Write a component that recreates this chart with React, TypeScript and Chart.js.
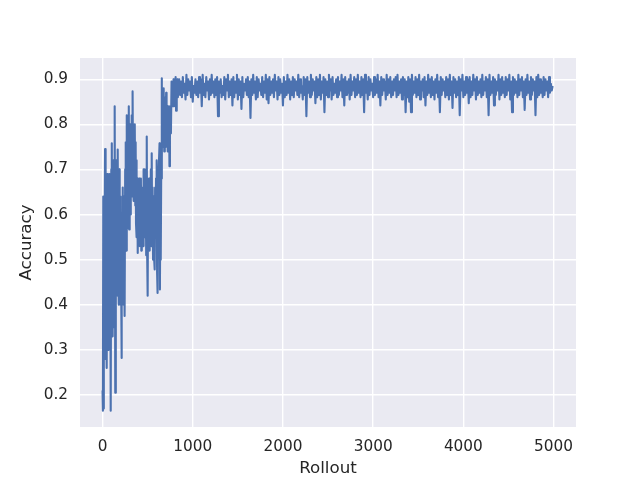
import React, { useEffect, useRef } from "react";
import { Chart, registerables } from "chart.js";

Chart.register(...registerables);

// Early, noisy phase of training (rollout index -> accuracy)
const EARLY_ROLLOUT = [
  0, 4, 8, 12, 16, 20, 24, 28, 32, 36,
  40, 44, 48, 52, 56, 60, 64, 68, 72, 76,
  80, 84, 88, 93, 97, 101, 104, 108, 112, 116,
  120, 124, 128, 132, 137, 141, 145, 149, 153, 157,
  162, 166, 170, 174, 178, 182, 186, 190, 194, 198,
  202, 206, 210, 214, 218, 222, 226, 230, 234, 238,
  242, 247, 251, 255, 259, 263, 267, 270, 274, 278,
  282, 286, 291, 295, 299, 303, 307, 311, 315, 319,
  323, 327, 331, 335, 339, 343, 347, 351, 355, 359,
  363, 367, 371, 375, 380, 385, 390, 395, 400, 405,
  410, 415, 420, 425, 430, 435, 440, 445, 450, 455,
  460, 467, 472, 478, 484, 490, 495, 500, 505, 510,
  515, 520, 525, 530, 535, 540, 545, 550, 555, 560,
  565, 570, 578, 583, 588, 593, 600, 605, 610, 615,
  620, 625, 632, 636, 640, 645, 650, 655, 659, 663,
  667, 671, 675, 680, 684, 688, 692, 696, 700, 705,
  710, 715, 720, 725, 731, 736, 742, 747, 752, 758,
  765, 770, 775, 780, 787, 792, 797, 803, 810, 815,
  820, 825, 830, 835,
];
const EARLY_ACCURACY = [
  0.21, 0.165, 0.64, 0.17, 0.62, 0.30, 0.60, 0.745, 0.28, 0.70,
  0.38, 0.67, 0.26, 0.69, 0.40, 0.66, 0.30, 0.62, 0.45, 0.69,
  0.38, 0.66, 0.28, 0.165, 0.70, 0.45, 0.758, 0.33, 0.66, 0.48,
  0.72, 0.35, 0.64, 0.52, 0.84, 0.205, 0.68, 0.46, 0.72, 0.50,
  0.70, 0.42, 0.744, 0.48, 0.66, 0.40, 0.70, 0.52, 0.64, 0.40,
  0.62, 0.45, 0.282, 0.60, 0.42, 0.66, 0.50, 0.62, 0.40, 0.64,
  0.45, 0.375, 0.70, 0.58, 0.76, 0.52, 0.72, 0.82, 0.57, 0.74,
  0.60, 0.78, 0.84, 0.567, 0.72, 0.62, 0.80, 0.60, 0.76, 0.65,
  0.82, 0.64, 0.78, 0.873, 0.66, 0.80, 0.63, 0.78, 0.66, 0.80,
  0.62, 0.76, 0.58, 0.72, 0.55, 0.68, 0.515, 0.66, 0.55, 0.68,
  0.53, 0.65, 0.56, 0.68, 0.52, 0.64, 0.55, 0.66, 0.53, 0.70,
  0.55, 0.70, 0.56, 0.68, 0.51, 0.773, 0.507, 0.42, 0.66, 0.54,
  0.68, 0.52, 0.66, 0.55, 0.70, 0.53, 0.736, 0.55, 0.66, 0.50,
  0.64, 0.52, 0.478, 0.66, 0.55, 0.68, 0.72, 0.47, 0.426, 0.66,
  0.52, 0.70, 0.758, 0.434, 0.62, 0.50, 0.68, 0.902, 0.72, 0.88,
  0.76, 0.86, 0.75, 0.88, 0.74, 0.85, 0.77, 0.86, 0.75, 0.87,
  0.76, 0.84, 0.74, 0.82, 0.76, 0.84, 0.707, 0.80, 0.84, 0.78,
  0.895, 0.84, 0.89, 0.85, 0.90, 0.84, 0.88, 0.85, 0.905, 0.83,
  0.88, 0.86, 0.90, 0.86,
];

// Converged phase: one reading every PLATEAU_STEP rollouts from PLATEAU_START
const PLATEAU_START = 850;
const PLATEAU_STEP = 10;
const PLATEAU_ACCURACY = [
  0.90, 0.865, 0.895, 0.86, 0.905, 0.87, 0.89, 0.855, 0.91, 0.865, 0.90, 0.875, 0.895, 0.86, 0.905, 0.85, 0.885, 0.87, 0.90, 0.865,
  0.895, 0.86, 0.905, 0.87, 0.90, 0.84, 0.91, 0.865, 0.89, 0.86, 0.905, 0.875, 0.895, 0.855, 0.90, 0.865, 0.91, 0.87, 0.895, 0.86,
  0.90, 0.865, 0.905, 0.818, 0.895, 0.87, 0.90, 0.86, 0.885, 0.865, 0.905, 0.855, 0.90, 0.875, 0.91, 0.86, 0.895, 0.865, 0.90, 0.842,
  0.905, 0.86, 0.895, 0.87, 0.91, 0.855, 0.90, 0.865, 0.895, 0.834, 0.905, 0.86, 0.89, 0.875, 0.90, 0.865, 0.905, 0.86, 0.895, 0.814,
  0.90, 0.865, 0.91, 0.87, 0.895, 0.855, 0.905, 0.86, 0.90, 0.875, 0.89, 0.865, 0.905, 0.86, 0.895, 0.87, 0.91, 0.855, 0.90, 0.847,
  0.905, 0.865, 0.895, 0.87, 0.90, 0.86, 0.91, 0.875, 0.895, 0.855, 0.905, 0.865, 0.90, 0.87, 0.89, 0.842, 0.905, 0.86, 0.895, 0.865,
  0.91, 0.87, 0.90, 0.855, 0.895, 0.865, 0.905, 0.86, 0.90, 0.875, 0.895, 0.865, 0.91, 0.86, 0.90, 0.87, 0.885, 0.855, 0.905, 0.865,
  0.90, 0.818, 0.905, 0.87, 0.895, 0.86, 0.91, 0.865, 0.90, 0.875, 0.895, 0.847, 0.905, 0.86, 0.90, 0.865, 0.91, 0.855, 0.895, 0.87,
  0.905, 0.827, 0.90, 0.865, 0.895, 0.86, 0.91, 0.875, 0.90, 0.855, 0.905, 0.865, 0.89, 0.87, 0.90, 0.86, 0.905, 0.865, 0.895, 0.875,
  0.91, 0.86, 0.90, 0.842, 0.905, 0.865, 0.895, 0.87, 0.90, 0.855, 0.91, 0.865, 0.895, 0.875, 0.905, 0.86, 0.90, 0.865, 0.91, 0.87,
  0.895, 0.86, 0.905, 0.865, 0.90, 0.827, 0.91, 0.87, 0.895, 0.855, 0.905, 0.865, 0.90, 0.875, 0.89, 0.86, 0.905, 0.865, 0.90, 0.87,
  0.91, 0.86, 0.895, 0.842, 0.905, 0.865, 0.90, 0.875, 0.895, 0.855, 0.91, 0.865, 0.90, 0.87, 0.905, 0.86, 0.895, 0.865, 0.90, 0.875,
  0.905, 0.86, 0.91, 0.865, 0.895, 0.87, 0.90, 0.855, 0.905, 0.865, 0.90, 0.827, 0.895, 0.86, 0.905, 0.85, 0.90, 0.827, 0.91, 0.865,
  0.895, 0.87, 0.905, 0.86, 0.90, 0.865, 0.91, 0.855, 0.895, 0.875, 0.90, 0.86, 0.905, 0.842, 0.895, 0.865, 0.91, 0.87, 0.90, 0.86,
  0.905, 0.865, 0.895, 0.855, 0.90, 0.87, 0.91, 0.86, 0.895, 0.827, 0.905, 0.865, 0.90, 0.875, 0.895, 0.86, 0.905, 0.865, 0.90, 0.855,
  0.91, 0.865, 0.895, 0.836, 0.905, 0.87, 0.90, 0.86, 0.895, 0.865, 0.905, 0.82, 0.90, 0.875, 0.91, 0.86, 0.895, 0.865, 0.905, 0.87,
  0.90, 0.847, 0.905, 0.86, 0.895, 0.865, 0.91, 0.875, 0.90, 0.855, 0.905, 0.865, 0.895, 0.87, 0.90, 0.86, 0.91, 0.865, 0.895, 0.875,
  0.905, 0.86, 0.90, 0.82, 0.91, 0.865, 0.895, 0.87, 0.905, 0.842, 0.90, 0.865, 0.895, 0.875, 0.91, 0.855, 0.90, 0.865, 0.905, 0.87,
  0.895, 0.86, 0.905, 0.865, 0.90, 0.875, 0.91, 0.855, 0.895, 0.827, 0.905, 0.865, 0.90, 0.87, 0.895, 0.86, 0.91, 0.865, 0.90, 0.875,
  0.905, 0.86, 0.895, 0.832, 0.90, 0.865, 0.91, 0.87, 0.895, 0.855, 0.905, 0.865, 0.90, 0.875, 0.895, 0.82, 0.905, 0.86, 0.91, 0.865,
  0.90, 0.87, 0.895, 0.86, 0.905, 0.865, 0.90, 0.875, 0.895, 0.86, 0.905, 0.87, 0.89, 0.875, 0.885,
];

const X_TICKS = [0, 1000, 2000, 3000, 4000, 5000];
const Y_TICKS = [0.2, 0.3, 0.4, 0.5, 0.6, 0.7, 0.8, 0.9];
const X_LABEL = "Rollout";
const Y_LABEL = "Accuracy";

const FONT = "'DejaVu Sans', 'Liberation Sans', sans-serif";
const TEXT = "#262626";

export default function App() {
  const ref = useRef<HTMLCanvasElement>(null);

  useEffect(() => {
    const points = [
      ...EARLY_ROLLOUT.map((x, i) => ({ x, y: EARLY_ACCURACY[i] })),
      ...PLATEAU_ACCURACY.map((y, i) => ({ x: PLATEAU_START + i * PLATEAU_STEP, y })),
    ];

    const background = {
      id: "background",
      beforeDraw(c: any) {
        const ctx = c.ctx;
        const a = c.chartArea;
        ctx.save();
        ctx.fillStyle = "#ffffff";
        ctx.fillRect(0, 0, c.width, c.height);
        ctx.fillStyle = "#EAEAF2";
        ctx.fillRect(a.left, a.top, a.right - a.left, a.bottom - a.top);
        ctx.restore();
      },
    };

    const chart = new Chart(ref.current as HTMLCanvasElement, {
      type: "line",
      data: {
        datasets: [
          {
            data: points,
            borderColor: "#4C72B0",
            borderWidth: 2.1,
            borderJoinStyle: "round",
            pointRadius: 0,
            tension: 0,
            fill: false,
          },
        ],
      },
      options: {
        responsive: false,
        devicePixelRatio: 1,
        animation: false,
        events: [],
        layout: { padding: { left: 0, right: 64, top: 58, bottom: 0 } },
        plugins: { legend: { display: false }, tooltip: { enabled: false } },
        scales: {
          x: {
            type: "linear",
            min: -250,
            max: 5249,
            afterBuildTicks: (s: any) => {
              s.ticks = X_TICKS.map((v) => ({ value: v }));
            },
            afterFit: (s: any) => {
              s.height = 53;
            },
            grid: { color: "#ffffff", lineWidth: 1.4, drawTicks: false },
            border: { display: false },
            ticks: {
              color: TEXT,
              font: { family: FONT, size: 15.3 },
              padding: 11,
              maxRotation: 0,
              autoSkip: false,
              callback: (v: any) => String(v),
            },
            title: {
              display: true,
              text: X_LABEL,
              color: TEXT,
              font: { family: FONT, size: 16.7 },
              padding: { top: 0, bottom: 1.8 },
            },
          },
          y: {
            type: "linear",
            min: 0.129,
            max: 0.947,
            afterBuildTicks: (s: any) => {
              s.ticks = Y_TICKS.map((v) => ({ value: v }));
            },
            afterFit: (s: any) => {
              s.width = 80;
            },
            grid: { color: "#ffffff", lineWidth: 1.4, drawTicks: false },
            border: { display: false },
            ticks: {
              color: TEXT,
              font: { family: FONT, size: 15.3 },
              padding: 12,
              autoSkip: false,
              callback: (v: any) => Number(v).toFixed(1),
            },
            title: {
              display: true,
              text: Y_LABEL,
              color: TEXT,
              font: { family: FONT, size: 16.7 },
              padding: { top: 16.7, bottom: 0 },
            },
          },
        },
      },
      plugins: [background],
    });

    return () => chart.destroy();
  }, []);

  return (
    <canvas
      ref={ref}
      width={640}
      height={480}
      style={{ position: "fixed", left: 0, top: 0, width: 640, height: 480 }}
    />
  );
}
